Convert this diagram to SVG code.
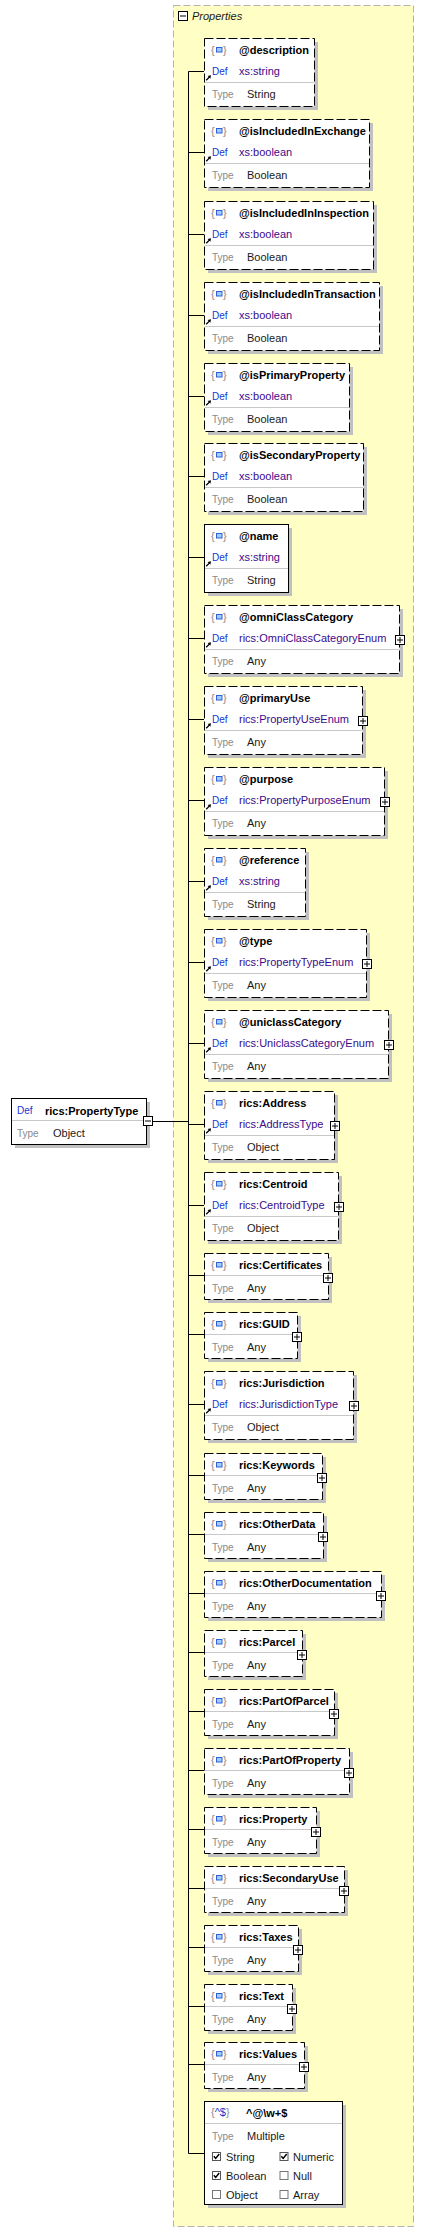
<svg xmlns="http://www.w3.org/2000/svg" xmlns:xlink="http://www.w3.org/1999/xlink" width="425" height="2233" viewBox="0 0 425 2233">
<style>
text{font-family:"Liberation Sans",Arial,sans-serif;font-size:11px;fill:#1a1a1a}
.ttl{font-weight:bold;fill:#000}
.def{font-size:10px;fill:#1238d0}
.dv{fill:#3c0a8c}
.ty{font-size:10px;fill:#8a8a8a}
.tv{fill:#1a1a1a}
.brc{fill:#8a8a8a}
.sh{fill:#c0c0c0}
.bx{fill:#fff;stroke:#000;stroke-width:1}
.dash{stroke-dasharray:9 3}
.sep{stroke:#c8c8c8;stroke-width:1}
.con{stroke:#000;stroke-width:1;fill:none}
</style>
<defs>
<g id="ico">
<text class="brc" x="7" y="16">{</text>
<text class="brc" x="19" y="16">}</text>
<rect x="12.5" y="9.5" width="5.5" height="4.5" fill="#a8c8ff" stroke="#2a62d8" stroke-width="1"/>
</g>
<g id="lnk">
<path d="M2.2 42.3L5.6 38.9" stroke="#000" stroke-width="1.3"/>
<path d="M7 37.3L3.6 37.9L6.4 40.7Z" fill="#000"/>
</g>
<g id="plus">
<rect x="0.5" y="0.5" width="9" height="9" fill="#fff" stroke="#000"/>
<rect x="2" y="4.5" width="6" height="1" fill="#000"/>
<rect x="4.5" y="2" width="1" height="6" fill="#000"/>
</g>
<g id="minus">
<rect x="0.5" y="0.5" width="9" height="9" fill="#fff" stroke="#000"/>
<rect x="2" y="4.5" width="6" height="1" fill="#000"/>
</g>
<g id="chk">
<rect x="0.5" y="0.5" width="8" height="8" fill="#fff" stroke="#555"/>
<path d="M1.8 4.3L3.7 6.4L7.2 2" stroke="#000" stroke-width="1.5" fill="none"/>
</g>
<g id="unchk">
<rect x="0.5" y="0.5" width="8" height="8" fill="#fff" stroke="#777"/>
</g>
</defs>

<g id="properties">
<rect x="173.5" y="5.5" width="240" height="2221" fill="#fffec4" stroke="#b4b4b4" stroke-dasharray="7 3"/>
<use xlink:href="#minus" x="178" y="11"/>
<text x="192" y="19.5" font-style="italic" font-size="10.5px" fill="#222">Properties</text>
</g>

<g id="connectors">
<line class="con" x1="153" y1="1121.5" x2="188.5" y2="1121.5"/>
<line class="con" x1="188.5" y1="71.5" x2="188.5" y2="2153.5"/>
<path class="con" d="M188.5 71.5H204M188.5 152.5H204M188.5 234.5H204M188.5 315.5H204M188.5 396.5H204M188.5 476.5H204M188.5 557.5H204M188.5 638.5H204M188.5 719.5H204M188.5 800.5H204M188.5 881.5H204M188.5 962.5H204M188.5 1043.5H204M188.5 1124.5H204M188.5 1205.5H204M188.5 1275.5H204M188.5 1334.5H204M188.5 1404.5H204M188.5 1475.5H204M188.5 1534.5H204M188.5 1593.5H204M188.5 1652.5H204M188.5 1711.5H204M188.5 1770.5H204M188.5 1829.5H204M188.5 1888.5H204M188.5 1947.5H204M188.5 2006.5H204M188.5 2064.5H204M188.5 2153.5H204"/>
</g>

<g id="n-root" transform="translate(11,1098)">
<rect class="sh" x="4" y="4" width="135" height="46"/>
<rect class="bx" x="0.5" y="0.5" width="135" height="46"/>
<line class="sep" x1="1" y1="22.5" x2="135" y2="22.5"/>
<text class="def" x="6" y="16">Def</text>
<text class="ttl" x="34" y="17">rics:PropertyType</text>
<text class="ty" x="6" y="39">Type</text>
<text class="tv" x="42" y="39">Object</text>
<use xlink:href="#minus" x="132" y="18"/>
</g>

<g id="n-description" transform="translate(204,38)">
<rect class="sh" x="4" y="4" width="110" height="68"/>
<rect class="bx dash" x="0.5" y="0.5" width="110" height="68"/>
<line class="sep" x1="1" y1="44.5" x2="110" y2="44.5"/>
<use xlink:href="#ico"/><use xlink:href="#lnk"/>
<text class="ttl" x="35" y="16">@description</text>
<text class="def" x="8" y="37">Def</text><text class="dv" x="35" y="37">xs:string</text>
<text class="ty" x="8" y="60">Type</text><text class="tv" x="43" y="60">String</text>
</g>

<g id="n-isIncludedInExchange" transform="translate(204,119)">
<rect class="sh" x="4" y="4" width="165" height="68"/>
<rect class="bx dash" x="0.5" y="0.5" width="165" height="68"/>
<line class="sep" x1="1" y1="44.5" x2="165" y2="44.5"/>
<use xlink:href="#ico"/><use xlink:href="#lnk"/>
<text class="ttl" x="35" y="16">@isIncludedInExchange</text>
<text class="def" x="8" y="37">Def</text><text class="dv" x="35" y="37">xs:boolean</text>
<text class="ty" x="8" y="60">Type</text><text class="tv" x="43" y="60">Boolean</text>
</g>

<g id="n-isIncludedInInspection" transform="translate(204,201)">
<rect class="sh" x="4" y="4" width="169" height="68"/>
<rect class="bx dash" x="0.5" y="0.5" width="169" height="68"/>
<line class="sep" x1="1" y1="44.5" x2="169" y2="44.5"/>
<use xlink:href="#ico"/><use xlink:href="#lnk"/>
<text class="ttl" x="35" y="16">@isIncludedInInspection</text>
<text class="def" x="8" y="37">Def</text><text class="dv" x="35" y="37">xs:boolean</text>
<text class="ty" x="8" y="60">Type</text><text class="tv" x="43" y="60">Boolean</text>
</g>

<g id="n-isIncludedInTransaction" transform="translate(204,282)">
<rect class="sh" x="4" y="4" width="175" height="68"/>
<rect class="bx dash" x="0.5" y="0.5" width="175" height="68"/>
<line class="sep" x1="1" y1="44.5" x2="175" y2="44.5"/>
<use xlink:href="#ico"/><use xlink:href="#lnk"/>
<text class="ttl" x="35" y="16">@isIncludedInTransaction</text>
<text class="def" x="8" y="37">Def</text><text class="dv" x="35" y="37">xs:boolean</text>
<text class="ty" x="8" y="60">Type</text><text class="tv" x="43" y="60">Boolean</text>
</g>

<g id="n-isPrimaryProperty" transform="translate(204,363)">
<rect class="sh" x="4" y="4" width="145" height="68"/>
<rect class="bx dash" x="0.5" y="0.5" width="145" height="68"/>
<line class="sep" x1="1" y1="44.5" x2="145" y2="44.5"/>
<use xlink:href="#ico"/><use xlink:href="#lnk"/>
<text class="ttl" x="35" y="16">@isPrimaryProperty</text>
<text class="def" x="8" y="37">Def</text><text class="dv" x="35" y="37">xs:boolean</text>
<text class="ty" x="8" y="60">Type</text><text class="tv" x="43" y="60">Boolean</text>
</g>

<g id="n-isSecondaryProperty" transform="translate(204,443)">
<rect class="sh" x="4" y="4" width="159" height="68"/>
<rect class="bx dash" x="0.5" y="0.5" width="159" height="68"/>
<line class="sep" x1="1" y1="44.5" x2="159" y2="44.5"/>
<use xlink:href="#ico"/><use xlink:href="#lnk"/>
<text class="ttl" x="35" y="16">@isSecondaryProperty</text>
<text class="def" x="8" y="37">Def</text><text class="dv" x="35" y="37">xs:boolean</text>
<text class="ty" x="8" y="60">Type</text><text class="tv" x="43" y="60">Boolean</text>
</g>

<g id="n-name" transform="translate(204,524)">
<rect class="sh" x="4" y="4" width="84" height="68"/>
<rect class="bx" x="0.5" y="0.5" width="84" height="68"/>
<line class="sep" x1="1" y1="44.5" x2="84" y2="44.5"/>
<use xlink:href="#ico"/><use xlink:href="#lnk"/>
<text class="ttl" x="35" y="16">@name</text>
<text class="def" x="8" y="37">Def</text><text class="dv" x="35" y="37">xs:string</text>
<text class="ty" x="8" y="60">Type</text><text class="tv" x="43" y="60">String</text>
</g>

<g id="n-omniClassCategory" transform="translate(204,605)">
<rect class="sh" x="4" y="4" width="195" height="68"/>
<rect class="bx dash" x="0.5" y="0.5" width="195" height="68"/>
<line class="sep" x1="1" y1="44.5" x2="195" y2="44.5"/>
<use xlink:href="#ico"/><use xlink:href="#lnk"/>
<text class="ttl" x="35" y="16">@omniClassCategory</text>
<text class="def" x="8" y="37">Def</text><text class="dv" x="35" y="37">rics:OmniClassCategoryEnum</text>
<text class="ty" x="8" y="60">Type</text><text class="tv" x="43" y="60">Any</text>
<use xlink:href="#plus" x="191" y="30"/>
</g>

<g id="n-primaryUse" transform="translate(204,686)">
<rect class="sh" x="4" y="4" width="158" height="68"/>
<rect class="bx dash" x="0.5" y="0.5" width="158" height="68"/>
<line class="sep" x1="1" y1="44.5" x2="158" y2="44.5"/>
<use xlink:href="#ico"/><use xlink:href="#lnk"/>
<text class="ttl" x="35" y="16">@primaryUse</text>
<text class="def" x="8" y="37">Def</text><text class="dv" x="35" y="37">rics:PropertyUseEnum</text>
<text class="ty" x="8" y="60">Type</text><text class="tv" x="43" y="60">Any</text>
<use xlink:href="#plus" x="154" y="30"/>
</g>

<g id="n-purpose" transform="translate(204,767)">
<rect class="sh" x="4" y="4" width="180" height="68"/>
<rect class="bx dash" x="0.5" y="0.5" width="180" height="68"/>
<line class="sep" x1="1" y1="44.5" x2="180" y2="44.5"/>
<use xlink:href="#ico"/><use xlink:href="#lnk"/>
<text class="ttl" x="35" y="16">@purpose</text>
<text class="def" x="8" y="37">Def</text><text class="dv" x="35" y="37">rics:PropertyPurposeEnum</text>
<text class="ty" x="8" y="60">Type</text><text class="tv" x="43" y="60">Any</text>
<use xlink:href="#plus" x="176" y="30"/>
</g>

<g id="n-reference" transform="translate(204,848)">
<rect class="sh" x="4" y="4" width="101" height="68"/>
<rect class="bx dash" x="0.5" y="0.5" width="101" height="68"/>
<line class="sep" x1="1" y1="44.5" x2="101" y2="44.5"/>
<use xlink:href="#ico"/><use xlink:href="#lnk"/>
<text class="ttl" x="35" y="16">@reference</text>
<text class="def" x="8" y="37">Def</text><text class="dv" x="35" y="37">xs:string</text>
<text class="ty" x="8" y="60">Type</text><text class="tv" x="43" y="60">String</text>
</g>

<g id="n-type" transform="translate(204,929)">
<rect class="sh" x="4" y="4" width="162" height="68"/>
<rect class="bx dash" x="0.5" y="0.5" width="162" height="68"/>
<line class="sep" x1="1" y1="44.5" x2="162" y2="44.5"/>
<use xlink:href="#ico"/><use xlink:href="#lnk"/>
<text class="ttl" x="35" y="16">@type</text>
<text class="def" x="8" y="37">Def</text><text class="dv" x="35" y="37">rics:PropertyTypeEnum</text>
<text class="ty" x="8" y="60">Type</text><text class="tv" x="43" y="60">Any</text>
<use xlink:href="#plus" x="158" y="30"/>
</g>

<g id="n-uniclassCategory" transform="translate(204,1010)">
<rect class="sh" x="4" y="4" width="184" height="68"/>
<rect class="bx dash" x="0.5" y="0.5" width="184" height="68"/>
<line class="sep" x1="1" y1="44.5" x2="184" y2="44.5"/>
<use xlink:href="#ico"/><use xlink:href="#lnk"/>
<text class="ttl" x="35" y="16">@uniclassCategory</text>
<text class="def" x="8" y="37">Def</text><text class="dv" x="35" y="37">rics:UniclassCategoryEnum</text>
<text class="ty" x="8" y="60">Type</text><text class="tv" x="43" y="60">Any</text>
<use xlink:href="#plus" x="180" y="30"/>
</g>

<g id="n-Address" transform="translate(204,1091)">
<rect class="sh" x="4" y="4" width="130" height="68"/>
<rect class="bx dash" x="0.5" y="0.5" width="130" height="68"/>
<line class="sep" x1="1" y1="44.5" x2="130" y2="44.5"/>
<use xlink:href="#ico"/><use xlink:href="#lnk"/>
<text class="ttl" x="35" y="16">rics:Address</text>
<text class="def" x="8" y="37">Def</text><text class="dv" x="35" y="37">rics:AddressType</text>
<text class="ty" x="8" y="60">Type</text><text class="tv" x="43" y="60">Object</text>
<use xlink:href="#plus" x="126" y="30"/>
</g>

<g id="n-Centroid" transform="translate(204,1172)">
<rect class="sh" x="4" y="4" width="134" height="68"/>
<rect class="bx dash" x="0.5" y="0.5" width="134" height="68"/>
<line class="sep" x1="1" y1="44.5" x2="134" y2="44.5"/>
<use xlink:href="#ico"/><use xlink:href="#lnk"/>
<text class="ttl" x="35" y="16">rics:Centroid</text>
<text class="def" x="8" y="37">Def</text><text class="dv" x="35" y="37">rics:CentroidType</text>
<text class="ty" x="8" y="60">Type</text><text class="tv" x="43" y="60">Object</text>
<use xlink:href="#plus" x="130" y="30"/>
</g>

<g id="n-Certificates" transform="translate(204,1253)">
<rect class="sh" x="4" y="4" width="124" height="46"/>
<rect class="bx dash" x="0.5" y="0.5" width="124" height="46"/>
<line class="sep" x1="1" y1="22.5" x2="124" y2="22.5"/>
<use xlink:href="#ico"/>
<text class="ttl" x="35" y="16">rics:Certificates</text>
<text class="ty" x="8" y="39">Type</text><text class="tv" x="43" y="39">Any</text>
<use xlink:href="#plus" x="119" y="20"/>
</g>

<g id="n-GUID" transform="translate(204,1312)">
<rect class="sh" x="4" y="4" width="93" height="46"/>
<rect class="bx dash" x="0.5" y="0.5" width="93" height="46"/>
<line class="sep" x1="1" y1="22.5" x2="93" y2="22.5"/>
<use xlink:href="#ico"/>
<text class="ttl" x="35" y="16">rics:GUID</text>
<text class="ty" x="8" y="39">Type</text><text class="tv" x="43" y="39">Any</text>
<use xlink:href="#plus" x="88" y="20"/>
</g>

<g id="n-Jurisdiction" transform="translate(204,1371)">
<rect class="sh" x="4" y="4" width="149" height="68"/>
<rect class="bx dash" x="0.5" y="0.5" width="149" height="68"/>
<line class="sep" x1="1" y1="44.5" x2="149" y2="44.5"/>
<use xlink:href="#ico"/><use xlink:href="#lnk"/>
<text class="ttl" x="35" y="16">rics:Jurisdiction</text>
<text class="def" x="8" y="37">Def</text><text class="dv" x="35" y="37">rics:JurisdictionType</text>
<text class="ty" x="8" y="60">Type</text><text class="tv" x="43" y="60">Object</text>
<use xlink:href="#plus" x="145" y="30"/>
</g>

<g id="n-Keywords" transform="translate(204,1453)">
<rect class="sh" x="4" y="4" width="118" height="46"/>
<rect class="bx dash" x="0.5" y="0.5" width="118" height="46"/>
<line class="sep" x1="1" y1="22.5" x2="118" y2="22.5"/>
<use xlink:href="#ico"/>
<text class="ttl" x="35" y="16">rics:Keywords</text>
<text class="ty" x="8" y="39">Type</text><text class="tv" x="43" y="39">Any</text>
<use xlink:href="#plus" x="113" y="20"/>
</g>

<g id="n-OtherData" transform="translate(204,1512)">
<rect class="sh" x="4" y="4" width="119" height="46"/>
<rect class="bx dash" x="0.5" y="0.5" width="119" height="46"/>
<line class="sep" x1="1" y1="22.5" x2="119" y2="22.5"/>
<use xlink:href="#ico"/>
<text class="ttl" x="35" y="16">rics:OtherData</text>
<text class="ty" x="8" y="39">Type</text><text class="tv" x="43" y="39">Any</text>
<use xlink:href="#plus" x="114" y="20"/>
</g>

<g id="n-OtherDocumentation" transform="translate(204,1571)">
<rect class="sh" x="4" y="4" width="177" height="46"/>
<rect class="bx dash" x="0.5" y="0.5" width="177" height="46"/>
<line class="sep" x1="1" y1="22.5" x2="177" y2="22.5"/>
<use xlink:href="#ico"/>
<text class="ttl" x="35" y="16">rics:OtherDocumentation</text>
<text class="ty" x="8" y="39">Type</text><text class="tv" x="43" y="39">Any</text>
<use xlink:href="#plus" x="172" y="20"/>
</g>

<g id="n-Parcel" transform="translate(204,1630)">
<rect class="sh" x="4" y="4" width="98" height="46"/>
<rect class="bx dash" x="0.5" y="0.5" width="98" height="46"/>
<line class="sep" x1="1" y1="22.5" x2="98" y2="22.5"/>
<use xlink:href="#ico"/>
<text class="ttl" x="35" y="16">rics:Parcel</text>
<text class="ty" x="8" y="39">Type</text><text class="tv" x="43" y="39">Any</text>
<use xlink:href="#plus" x="93" y="20"/>
</g>

<g id="n-PartOfParcel" transform="translate(204,1689)">
<rect class="sh" x="4" y="4" width="130" height="46"/>
<rect class="bx dash" x="0.5" y="0.5" width="130" height="46"/>
<line class="sep" x1="1" y1="22.5" x2="130" y2="22.5"/>
<use xlink:href="#ico"/>
<text class="ttl" x="35" y="16">rics:PartOfParcel</text>
<text class="ty" x="8" y="39">Type</text><text class="tv" x="43" y="39">Any</text>
<use xlink:href="#plus" x="125" y="20"/>
</g>

<g id="n-PartOfProperty" transform="translate(204,1748)">
<rect class="sh" x="4" y="4" width="145" height="46"/>
<rect class="bx dash" x="0.5" y="0.5" width="145" height="46"/>
<line class="sep" x1="1" y1="22.5" x2="145" y2="22.5"/>
<use xlink:href="#ico"/>
<text class="ttl" x="35" y="16">rics:PartOfProperty</text>
<text class="ty" x="8" y="39">Type</text><text class="tv" x="43" y="39">Any</text>
<use xlink:href="#plus" x="140" y="20"/>
</g>

<g id="n-Property" transform="translate(204,1807)">
<rect class="sh" x="4" y="4" width="112" height="46"/>
<rect class="bx dash" x="0.5" y="0.5" width="112" height="46"/>
<line class="sep" x1="1" y1="22.5" x2="112" y2="22.5"/>
<use xlink:href="#ico"/>
<text class="ttl" x="35" y="16">rics:Property</text>
<text class="ty" x="8" y="39">Type</text><text class="tv" x="43" y="39">Any</text>
<use xlink:href="#plus" x="107" y="20"/>
</g>

<g id="n-SecondaryUse" transform="translate(204,1866)">
<rect class="sh" x="4" y="4" width="140" height="46"/>
<rect class="bx dash" x="0.5" y="0.5" width="140" height="46"/>
<line class="sep" x1="1" y1="22.5" x2="140" y2="22.5"/>
<use xlink:href="#ico"/>
<text class="ttl" x="35" y="16">rics:SecondaryUse</text>
<text class="ty" x="8" y="39">Type</text><text class="tv" x="43" y="39">Any</text>
<use xlink:href="#plus" x="135" y="20"/>
</g>

<g id="n-Taxes" transform="translate(204,1925)">
<rect class="sh" x="4" y="4" width="94" height="46"/>
<rect class="bx dash" x="0.5" y="0.5" width="94" height="46"/>
<line class="sep" x1="1" y1="22.5" x2="94" y2="22.5"/>
<use xlink:href="#ico"/>
<text class="ttl" x="35" y="16">rics:Taxes</text>
<text class="ty" x="8" y="39">Type</text><text class="tv" x="43" y="39">Any</text>
<use xlink:href="#plus" x="89" y="20"/>
</g>

<g id="n-Text" transform="translate(204,1984)">
<rect class="sh" x="4" y="4" width="88" height="46"/>
<rect class="bx dash" x="0.5" y="0.5" width="88" height="46"/>
<line class="sep" x1="1" y1="22.5" x2="88" y2="22.5"/>
<use xlink:href="#ico"/>
<text class="ttl" x="35" y="16">rics:Text</text>
<text class="ty" x="8" y="39">Type</text><text class="tv" x="43" y="39">Any</text>
<use xlink:href="#plus" x="83" y="20"/>
</g>

<g id="n-Values" transform="translate(204,2042)">
<rect class="sh" x="4" y="4" width="100" height="46"/>
<rect class="bx dash" x="0.5" y="0.5" width="100" height="46"/>
<line class="sep" x1="1" y1="22.5" x2="100" y2="22.5"/>
<use xlink:href="#ico"/>
<text class="ttl" x="35" y="16">rics:Values</text>
<text class="ty" x="8" y="39">Type</text><text class="tv" x="43" y="39">Any</text>
<use xlink:href="#plus" x="95" y="20"/>
</g>

<g id="n-pattern" transform="translate(204,2101)">
<rect class="sh" x="4" y="4" width="138" height="103"/>
<rect class="bx" x="0.5" y="0.5" width="138" height="103"/>
<line class="sep" x1="1" y1="22.5" x2="138" y2="22.5"/>
<text x="7" y="15" class="brc">{<tspan fill="#1238d0">^$</tspan>}</text>
<text class="ttl" x="42" y="16">^@\w+$</text>
<text class="ty" x="8" y="39">Type</text><text class="tv" x="43" y="39">Multiple</text>
<use xlink:href="#chk" x="8" y="51"/><text x="22" y="60">String</text>
<use xlink:href="#chk" x="75.5" y="51"/><text x="89" y="60">Numeric</text>
<use xlink:href="#chk" x="8" y="70"/><text x="22" y="79">Boolean</text>
<use xlink:href="#unchk" x="75.5" y="70"/><text x="89" y="79">Null</text>
<use xlink:href="#unchk" x="8" y="89"/><text x="22" y="98">Object</text>
<use xlink:href="#unchk" x="75.5" y="89"/><text x="89" y="98">Array</text>
</g>
</svg>
